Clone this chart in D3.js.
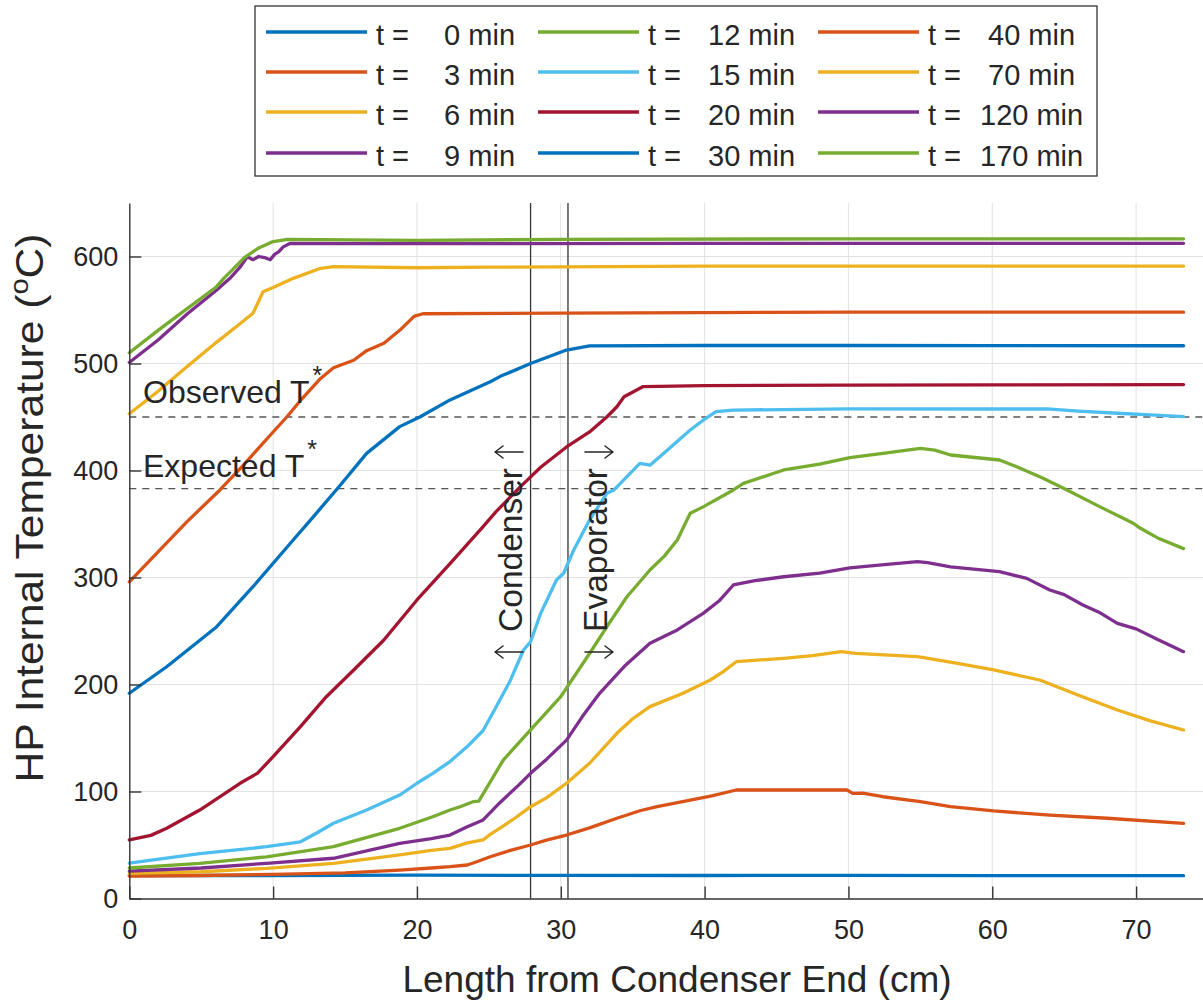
<!DOCTYPE html>
<html><head><meta charset="utf-8">
<script src="https://cdn.jsdelivr.net/npm/d3@7"></script>
<style>
html,body{margin:0;padding:0;background:#fff;overflow:hidden}
svg{display:block}
text{font-family:"Liberation Sans",Arial,Helvetica,sans-serif;fill:#262626}
</style></head><body>
<svg id="c" width="1203" height="1001"></svg>
<script>
// ---- data (x in cm, temperature in °C) ----
const times = [0, 3, 6, 9, 12, 15, 20, 30, 40, 70, 120, 170];
const colors = ["#0072BD","#D95319","#EDB120","#7E2F8E","#77AC30","#4DBEEE","#A2142F","#0072BD","#D95319","#EDB120","#7E2F8E","#77AC30"];
const xTicks = [0, 10, 20, 30, 40, 50, 60, 70];
const yTicks = [0, 100, 200, 300, 400, 500, 600];
const observedT = 450;
const expectedT = 383;
const condenserEnd = 27.9;
const evaporatorStart = 30.5;

const s0 = [[0,21.5],[10,21.5],[20,21.8],[30,21.6],[40,21.5],[50,21.6],[60,21.4],[73.3,21.3]];
const s3 = [[0,21],[5,21.5],[10,22.5],[15,24],[18.8,26.6],[21,28.5],[22.3,29.7],[23.5,31.3],[24.3,35],[25.1,39],[26.5,45],[27.9,50],[29,54.5],[30.4,59.3],[32,66],[33.9,75],[35.5,82],[36.7,85.8],[39,92],[40.5,96],[42.2,101.4],[46.6,101.4],[49.9,101.4],[50.3,98.3],[51,98.5],[52.4,95.1],[55,90.5],[57.1,85.8],[60.1,81.8],[64,78],[68,75],[73.3,70.3]];
const s6 = [[0,23.5],[5,25],[9.55,28.2],[14.2,32.9],[18.8,40.7],[21,45],[22.3,46.9],[23.5,52],[24.6,54.7],[25.1,60],[25.8,66],[26.8,75],[27.9,85.8],[29,94],[30.4,107.7],[32,126.4],[33.9,154.4],[35,168],[36.2,179.3],[38.5,191.8],[40.4,204.2],[41.3,212],[42.2,221.3],[45.5,224.5],[47.5,227],[49.5,230.7],[50.5,229],[54.8,226],[57.5,220],[60.1,213.6],[63.3,204.2],[66,190],[68.7,176.2],[71,166],[73.3,157.5]];
const s9 = [[0,25.5],[5,28.5],[9.55,32.9],[14.2,37.6],[18.8,51.6],[21,56],[22.3,59.3],[23.5,67.1],[24.6,73.4],[25.8,90],[27,105],[27.9,117],[29,130],[30.4,148],[31.5,170],[32.7,191.8],[34.5,218],[36.2,238.5],[38.1,251],[39.9,266.5],[41,278],[42,293],[43.5,297],[45.5,300.7],[48,304],[50.1,309],[52.5,312],[54.8,314.8],[55.5,314],[57.1,310],[60.5,305.4],[62.4,299.2],[64,288.3],[65,284],[66.3,274.3],[67.5,267],[68.7,257.2],[70,252],[71.5,242],[73.3,230.7]];
const s12 = [[0,28.5],[4.9,32.9],[9.55,39],[14.2,48.4],[18.8,65.6],[21.1,76.4],[22.3,82.7],[23,85.8],[23.9,90.5],[24.3,91],[24.9,104.5],[26,129.4],[27.9,157.5],[30,188.6],[32,229],[33.3,256],[34.6,282],[36.2,307],[37.2,320],[38.1,335],[39,360],[39.9,366],[42,381.8],[42.7,388],[45.5,400.5],[48,406],[50.1,412],[52.4,416],[55,420.7],[56,419],[57.1,414.5],[60.5,409.8],[61.7,403.5],[63.5,393],[65.2,381.8],[67.5,366],[69,356],[69.8,350.7],[70.3,346],[71.5,337],[73.3,327]];
const s15 = [[0,33],[4.9,42],[9.55,48.4],[11.9,53],[13,61],[14.2,70.3],[16.5,82.7],[18.8,96.7],[20,107.7],[21.1,117],[22.3,128],[23.5,142],[24.6,157],[25.5,179],[26.5,204],[27.4,232],[27.9,240],[28.6,266.5],[29.7,297.7],[30.2,304],[30.9,325.7],[32,353.7],[33.2,378.7],[33.7,381.8],[35.5,406.7],[36.2,405],[37.4,419],[39,437.9],[39.9,447],[40.8,455],[42,456.5],[50,457.5],[60,457.5],[63.8,457.5],[66,455.5],[68.7,453.5],[71,452],[73.3,450.3]];
const s20 = [[0,54.7],[1.5,59],[2.6,65.6],[4.9,82.7],[7.7,107.7],[8.9,117],[10,132.5],[11.9,160.6],[13.7,188.6],[15.6,213.6],[17.7,241.6],[20,279],[22.3,313],[24.6,347.5],[25.5,361.5],[27.2,384.9],[28.6,403],[30.4,422],[32,436],[33.2,450],[33.9,459.6],[34.4,469],[35.7,478.3],[40,479.3],[50,479.8],[60,480],[73.3,480.3]];
const s30 = [[0,191.8],[2.6,216.6],[6.08,254],[8.6,291.4],[11.2,332],[13,360],[14.65,386],[16.5,416],[18.8,441],[20.2,450],[22.3,466],[25.1,483],[25.8,488],[27.9,500],[30.4,512.6],[32,516.5],[40,516.8],[50,516.8],[60,516.7],[73.3,516.6]];
const s40 = [[0,296],[2,324],[4,352],[6.3,381.8],[8,406],[10,436],[10.95,450],[12,467],[13.3,486],[14.2,496],[15.6,503],[16.5,512],[17.7,519],[18.8,531],[19.8,544],[20.4,546.5],[30,547],[40,547.5],[50,548],[73.3,548]];
const s70 = [[0,453],[2,474],[4,497],[6.08,520],[7.5,535],[8.6,547],[9.3,567],[10,571],[11.4,579.6],[13.3,589],[14.2,590.5],[20,589.5],[25,590],[40,591],[73.3,591]];
const s120 = [[0,501],[2,522],[4,546],[6.08,568.7],[6.6,575],[7,579.6],[7.7,590],[8.2,599.8],[8.6,597],[9,600],[9.4,599],[9.8,597],[10.1,602],[10.4,604.5],[10.7,609],[11.2,612.3],[20,612],[40,612.3],[73.3,612.3]];
const s170 = [[0,510],[2,531],[4,551],[6,571],[6.6,580],[7.2,588],[8,599],[9,608],[10,614],[11,616],[20,615],[30,616],[50,616.5],[73.3,616.5]];
const seriesData = [s0, s3, s6, s9, s12, s15, s20, s30, s40, s70, s120, s170];

// ---- layout ----
const svg = d3.select("#c");
const x = d3.scaleLinear().domain([0, 75]).range([129.3, 1208]);
const y = d3.scaleLinear().domain([0, 650]).range([898.5, 203]);
const [x0, x1] = [x(0), 1203];

// grid
const grid = svg.append("g").attr("stroke", "#e2e2e2").attr("stroke-width", 1);
grid.selectAll("line.v").data(xTicks.slice(1)).join("line")
  .attr("x1", d => x(d)).attr("x2", d => x(d)).attr("y1", y(0)).attr("y2", y(650));
grid.selectAll("line.h").data(yTicks.slice(1)).join("line")
  .attr("x1", x0).attr("x2", x1).attr("y1", d => y(d)).attr("y2", d => y(d));

// reference dashed lines
svg.append("g").selectAll("line").data([observedT, expectedT]).join("line")
  .attr("x1", x0).attr("x2", x1).attr("y1", d => y(d)).attr("y2", d => y(d))
  .attr("stroke", "#555").attr("stroke-width", 1.3).attr("stroke-dasharray", "7,6");

// section vertical lines
svg.append("g").selectAll("line").data([condenserEnd, evaporatorStart]).join("line")
  .attr("x1", d => x(d)).attr("x2", d => x(d)).attr("y1", y(0)).attr("y2", y(650))
  .attr("stroke", "#333").attr("stroke-width", 1.3);

// data lines
const line = d3.line().x(d => x(d[0])).y(d => y(d[1]));
svg.append("g").selectAll("path").data(seriesData).join("path")
  .attr("d", line).attr("fill", "none")
  .attr("stroke", (d, i) => colors[i]).attr("stroke-width", 3.3)
  .attr("stroke-linejoin", "round").attr("stroke-linecap", "round");

// axes
const xAxis = svg.append("g").attr("transform", `translate(0,${y(0)})`)
  .call(d3.axisBottom(x).tickValues(xTicks).tickSize(-12).tickSizeOuter(0).tickPadding(21));
const yAxis = svg.append("g").attr("transform", `translate(${x(0)},0)`)
  .call(d3.axisLeft(y).tickValues(yTicks).tickSize(-12).tickSizeOuter(0).tickPadding(11));
[xAxis, yAxis].forEach(a => {
  a.selectAll("path,line").attr("stroke", "#333").attr("stroke-width", 1.4);
  a.selectAll("text").attr("font-size", 27).attr("font-family", '"Liberation Sans",Arial,sans-serif').attr("fill", "#262626");
});

// axis titles
svg.append("text").attr("x", 677).attr("y", 992).attr("text-anchor", "middle")
  .attr("font-size", 37).text("Length from Condenser End (cm)");
const yl = svg.append("text").attr("transform", "translate(43,508) rotate(-90) scale(1.12,1)")
  .attr("text-anchor", "middle").attr("font-size", 38);
yl.append("tspan").text("HP Internal Temperature (");
yl.append("tspan").attr("font-size", 26).attr("dy", -15).text("o");
yl.append("tspan").attr("dy", 15).text("C)");

// annotations
[["Observed T", observedT, 403], ["Expected T", expectedT, 477]].forEach(([lab, v, by]) => {
  const t = svg.append("text").attr("x", 143).attr("y", by).attr("font-size", 32);
  t.append("tspan").text(lab);
  t.append("tspan").attr("font-size", 25).attr("dx", 3).attr("dy", -19).text("*");
});
svg.append("text").attr("transform", "translate(522,550) rotate(-90)").attr("text-anchor", "middle")
  .attr("font-size", 33.5).text("Condenser");
svg.append("text").attr("transform", "translate(607,550) rotate(-90)").attr("text-anchor", "middle")
  .attr("font-size", 33.5).text("Evaporator");
// direction arrows: [tail x, head x, y]
const arrows = [[523, 495, 452], [523, 495, 652], [585, 613, 452], [585, 613, 652]];
svg.append("g").attr("fill", "none").attr("stroke", "#262626").attr("stroke-width", 1.5)
  .attr("stroke-linecap", "round").attr("stroke-linejoin", "round")
  .selectAll("path").data(arrows).join("path")
  .attr("d", ([t, h, ay]) => {
    const s = Math.sign(t - h);
    return `M${t},${ay}H${h}M${h + s * 8},${ay - 6}L${h},${ay}L${h + s * 8},${ay + 6}`;
  });

// legend
const lg = svg.append("g");
lg.append("rect").attr("x", 255).attr("y", 6).attr("width", 842).attr("height", 170)
  .attr("fill", "#fff").attr("stroke", "#333").attr("stroke-width", 1.3);
const colX = [266, 538, 818];
const rowY = [32, 72, 112, 153];
times.forEach((t, i) => {
  const cx = colX[Math.floor(i / 4)], ry = rowY[i % 4];
  lg.append("line").attr("x1", cx).attr("x2", cx + 101).attr("y1", ry).attr("y2", ry)
    .attr("stroke", colors[i]).attr("stroke-width", 3.4);
  const tx = lg.append("text").attr("y", ry + 13).attr("font-size", 29)
    .attr("xml:space", "preserve").style("white-space", "pre");
  tx.append("tspan").attr("x", cx + 110).text("t =");
  tx.append("tspan").attr("x", cx + 162).text(String(t).padStart(3, " ") + " min");
});
</script>
</body></html>
